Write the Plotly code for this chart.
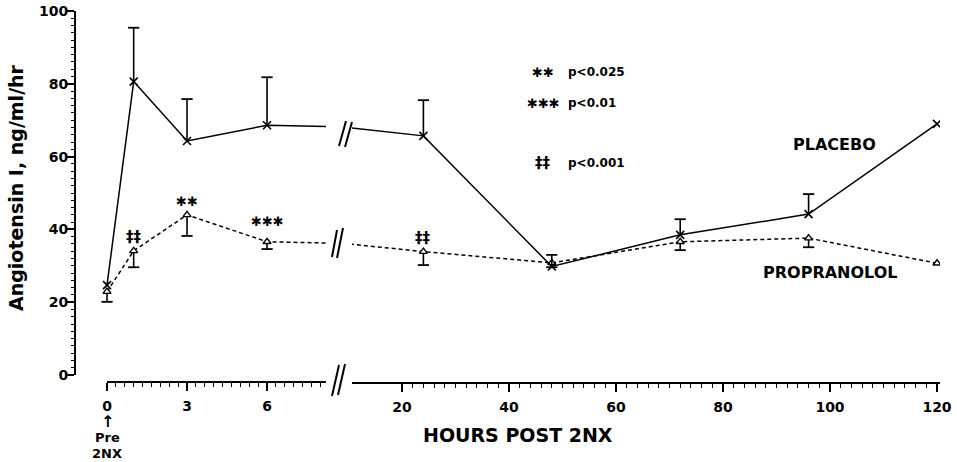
import numpy as np
import plotly.graph_objects as go

# ---------------- data ----------------
hours = [0, 1, 3, 6, 24, 48, 72, 96, 120]
placebo = [24.7, 80.6, 64.3, 68.6, 65.7, 29.8, 38.5, 44.2, 69.0]
placebo_err_up = [0, 14.8, 11.5, 13.2, 9.8, 3.2, 4.3, 5.5, 0]
propranolol = [22.9, 34.1, 44.0, 36.6, 33.9, 30.8, 36.6, 37.6, 30.7]
propranolol_err_down = [2.8, 4.5, 5.8, 2.0, 3.7, 1.2, 2.3, 2.5, 0]

left_ticks = [0, 3, 6]
right_ticks = [20, 40, 60, 80, 100, 120]
y_ticks = [0, 20, 40, 60, 80, 100]

sig_hours = [1, 3, 6, 24]
sig_marks = ["‡‡", "✱✱", "✱✱✱", "‡‡"]
key_marks = ["✱✱", "✱✱✱", "‡‡"]
key_labels = ["p<0.025", "p<0.01", "p<0.001"]

# ---------------- layout geometry (pixels) ----------------
W, H = 957, 462
L, R, T, B = 75, 940, 11, 382


def px(x):
    return (x - L) / (R - L)


def py(y):
    return (B - y) / (B - T)


left_range = [-1.2, 8.21]
right_range = [10.654, 120.56]
y_range = [-1.923, 100]

FONT = "DejaVu Sans"
BLACK = "black"

fig = go.Figure()

n = len(hours)
pe = np.array(placebo_err_up)
qe = np.array(propranolol_err_down)
p_cap_x = list(np.array(hours)[pe > 0])
p_cap_y = list(np.array(placebo)[pe > 0] + pe[pe > 0])
q_cap_x = list(np.array(hours)[qe > 0])
q_cap_y = list(np.array(propranolol)[qe > 0] - qe[qe > 0])

for xa in ["x", "x2"]:
    # propranolol (dashed, open triangles, error bars downward)
    fig.add_trace(go.Scatter(
        x=hours, y=propranolol, xaxis=xa, yaxis="y", mode="lines+markers",
        line=dict(color=BLACK, width=1.5, dash="4px,3px"),
        marker=dict(symbol="triangle-up", size=7, color="white",
                    line=dict(color=BLACK, width=1.4)),
        error_y=dict(type="data", symmetric=False, array=[0] * n,
                     arrayminus=propranolol_err_down, width=0,
                     thickness=1.6, color=BLACK),
        hoverinfo="skip"))
    fig.add_trace(go.Scatter(
        x=q_cap_x, y=q_cap_y, xaxis=xa, yaxis="y", mode="markers",
        marker=dict(symbol="line-ew", size=8, line=dict(color=BLACK, width=1.8)),
        hoverinfo="skip"))
    # placebo (solid, x markers, error bars upward)
    fig.add_trace(go.Scatter(
        x=hours, y=placebo, xaxis=xa, yaxis="y", mode="lines+markers",
        line=dict(color=BLACK, width=1.5),
        marker=dict(symbol="x-thin", size=8, color=BLACK,
                    line=dict(color=BLACK, width=1.6)),
        error_y=dict(type="data", symmetric=False, array=placebo_err_up,
                     arrayminus=[0] * n, width=0, thickness=1.6, color=BLACK),
        hoverinfo="skip"))
    fig.add_trace(go.Scatter(
        x=p_cap_x, y=p_cap_y, xaxis=xa, yaxis="y", mode="markers",
        marker=dict(symbol="line-ew", size=8, line=dict(color=BLACK, width=1.8)),
        hoverinfo="skip"))

tickfont = dict(family=FONT, size=14, color=BLACK, weight="bold")

left_minor = [round(v, 6) for v in np.arange(1, 25) / 3.0 if round(v, 6) not in (3.0, 6.0)]
right_minor = [v for v in range(22, 121, 2) if v not in right_ticks]

fig.update_layout(
    width=W, height=H,
    margin=dict(l=L, r=W - R, t=T, b=H - B, pad=0, autoexpand=False),
    paper_bgcolor="white", plot_bgcolor="white",
    showlegend=False,
    xaxis=dict(domain=[0, px(326)], range=left_range, anchor="y", automargin=False,
               showgrid=False, zeroline=False, showline=False,
               tickmode="array", tickvals=left_ticks, ticktext=[str(v) for v in left_ticks],
               ticks="outside", ticklen=8, tickwidth=1.6, tickcolor=BLACK,
               ticklabelstandoff=3, ticklabeloverflow="allow",
               minor=dict(tickmode="array", tickvals=left_minor, ticks="outside",
                          ticklen=4, tickwidth=1.3, tickcolor=BLACK),
               tickfont=tickfont),
    xaxis2=dict(domain=[px(352), 1], range=right_range, anchor="y", automargin=False,
                showgrid=False, zeroline=False, showline=True,
                linecolor=BLACK, linewidth=2,
                tickmode="array", tickvals=right_ticks, ticktext=[str(v) for v in right_ticks],
                ticks="outside", ticklen=8, tickwidth=1.6, tickcolor=BLACK,
                ticklabelstandoff=3, ticklabeloverflow="allow",
                minor=dict(tickmode="array", tickvals=right_minor, ticks="outside",
                           ticklen=4, tickwidth=1.3, tickcolor=BLACK),
                tickfont=tickfont),
    yaxis=dict(domain=[0, 1], range=y_range, anchor="x", automargin=False,
               showgrid=False, zeroline=False, showline=False,
               tickmode="array", tickvals=y_ticks, ticktext=[str(v) for v in y_ticks],
               ticks="outside", ticklen=7, tickwidth=1.6, tickcolor=BLACK,
               ticklabelstandoff=-4, ticklabeloverflow="allow",
               minor=dict(tick0=0, dtick=2, ticks="outside", ticklen=3.5,
                          tickwidth=1.2, tickcolor=BLACK),
               tickfont=tickfont),
)

# axis lines
shapes = [
    dict(type="line", xref="paper", yref="y", x0=0, x1=0, y0=0, y1=100,
         line=dict(color=BLACK, width=2)),
    dict(type="line", xref="x", yref="paper", x0=0, x1=left_range[1], y0=0, y1=0,
         line=dict(color=BLACK, width=2)),
]
# axis-break marks (decoration)
breaks = [
    [(332, 396), (339, 365)], [(338, 395), (345, 364)],
    [(339, 146), (346, 121)], [(345, 147), (352, 122)],
    [(332, 257), (337, 230)], [(337, 258), (343, 228)],
]
for (x0, y0), (x1, y1) in breaks:
    shapes.append(dict(type="line", xref="paper", yref="paper",
                       x0=px(x0), y0=py(y0), x1=px(x1), y1=py(y1),
                       line=dict(color=BLACK, width=2)))
fig.update_layout(shapes=shapes)

annotations = []
sig_shift = [14, 13, 20, 14]
sig_size = [15, 13, 13, 15]
for h, m, s, fs in zip(sig_hours, sig_marks, sig_shift, sig_size):
    idx = hours.index(h)
    annotations.append(dict(
        x=h, y=propranolol[idx], xref="x" if h <= 6 else "x2", yref="y",
        text=m, showarrow=False, yshift=s, xanchor="center", yanchor="middle",
        font=dict(family=FONT, size=fs, color=BLACK, weight="bold")))

key_y = [72, 103, 163]
key_size = [13, 13, 15]
for m, lab, yy, fs in zip(key_marks, key_labels, key_y, key_size):
    annotations.append(dict(
        x=px(543), y=py(yy), xref="paper", yref="paper", text=m, showarrow=False,
        xanchor="center", yanchor="middle",
        font=dict(family=FONT, size=fs, color=BLACK, weight="bold")))
    annotations.append(dict(
        x=px(566), y=py(yy), xref="paper", yref="paper", text=lab, showarrow=False,
        xanchor="left", yanchor="middle",
        font=dict(family=FONT, size=12, color=BLACK, weight="bold")))

annotations += [
    dict(x=px(834), y=py(144), xref="paper", yref="paper", text="PLACEBO",
         showarrow=False, xanchor="center", yanchor="middle",
         font=dict(family=FONT, size=16, color=BLACK, weight="bold")),
    dict(x=px(830), y=py(272), xref="paper", yref="paper", text="PROPRANOLOL",
         showarrow=False, xanchor="center", yanchor="middle",
         font=dict(family=FONT, size=16, color=BLACK, weight="bold")),
    dict(x=px(518), y=py(435), xref="paper", yref="paper", text="HOURS POST 2NX",
         showarrow=False, xanchor="center", yanchor="middle",
         font=dict(family=FONT, size=19, color=BLACK, weight="bold")),
    dict(x=px(16), y=py(188), xref="paper", yref="paper",
         text="Angiotensin I, ng/ml/hr", textangle=-90,
         showarrow=False, xanchor="center", yanchor="middle",
         font=dict(family=FONT, size=19, color=BLACK, weight="bold")),
    dict(x=0, y=py(421), xref="x", yref="paper", text="↑",
         showarrow=False, xanchor="center", yanchor="middle",
         font=dict(family=FONT, size=16, color=BLACK, weight="bold")),
    dict(x=0, y=py(437), xref="x", yref="paper", text="Pre",
         showarrow=False, xanchor="center", yanchor="middle",
         font=dict(family=FONT, size=13, color=BLACK, weight="bold")),
    dict(x=0, y=py(453), xref="x", yref="paper", text="2NX",
         showarrow=False, xanchor="center", yanchor="middle",
         font=dict(family=FONT, size=13, color=BLACK, weight="bold")),
]
fig.update_layout(annotations=annotations)

# remove the default page margin so the figure fills the window exactly
fig.write_html("out.html", config={"displayModeBar": False},
               post_script="document.body.style.margin='0';")
